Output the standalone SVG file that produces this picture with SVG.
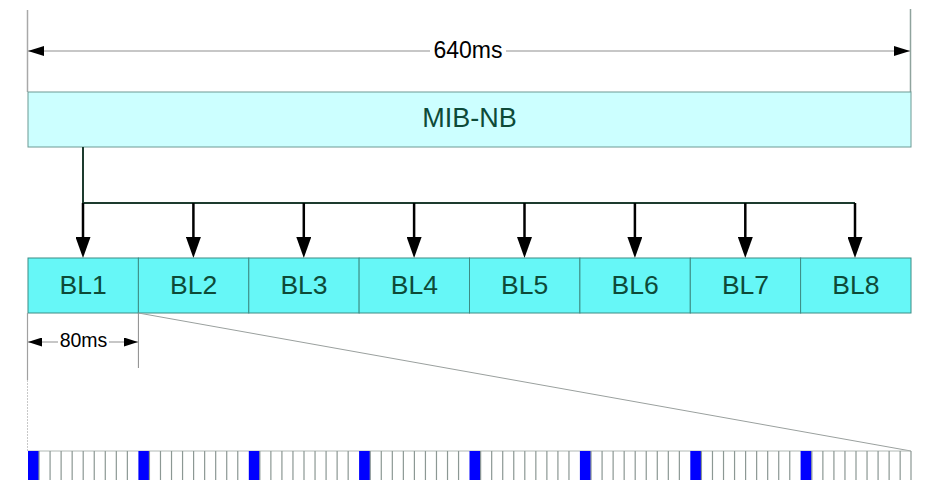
<svg xmlns="http://www.w3.org/2000/svg" width="939" height="493" viewBox="0 0 939 493">
<style>
.txt{font-family:"Liberation Sans",Arial,sans-serif;text-anchor:middle}
.lbl{fill:#0d4a38;font-size:26.5px}
.mib{font-size:27px}
.dim{fill:#000;font-size:23px}
.gl{stroke:#b4b4b4;stroke-width:1.5;fill:none}
.bl{fill:#66f7f7;stroke:#3c8c84;stroke-width:1}
.fan{stroke:#1d3b2e;stroke-width:2;fill:none}
.arr{stroke:#000;stroke-width:2.5;fill:none}
.slot{stroke:#8c9894;stroke-width:1.2}
</style>
<defs>
<marker id="ah" viewBox="0 0 16 10" refX="16" refY="5" markerWidth="16" markerHeight="10" markerUnits="userSpaceOnUse" orient="auto-start-reverse">
<path d="M0,0 L16,5 L0,10 Z" fill="#000"/>
</marker>
<marker id="ahs" viewBox="0 0 14 9" refX="14" refY="4.5" markerWidth="14" markerHeight="9" markerUnits="userSpaceOnUse" orient="auto-start-reverse">
<path d="M0,0 L14,4.5 L0,9 Z" fill="#000"/>
</marker>
<marker id="ahd" viewBox="0 0 15 21" refX="7.5" refY="8" markerWidth="15" markerHeight="21" markerUnits="userSpaceOnUse" orient="0">
<path d="M0,0 L15,0 L7.5,21 Z" fill="#000"/>
</marker>
</defs>

<g id="dim640">
<line x1="27.5" y1="10" x2="27.5" y2="92" stroke="#a8a8a8" stroke-width="1.5"/>
<line x1="910.5" y1="9" x2="910.5" y2="92" stroke="#8fa39d" stroke-width="1.5"/>
<line class="gl" x1="28" y1="51" x2="430" y2="51" marker-start="url(#ah)"/>
<line class="gl" x1="506" y1="51" x2="910" y2="51" marker-end="url(#ah)"/>
<text class="txt dim" x="468" y="58">640ms</text>
</g>

<g id="mib">
<rect x="28" y="92" width="883" height="55" fill="#ccffff" stroke="#6d9a94" stroke-width="1"/>
<text class="txt lbl mib" x="469.5" y="127">MIB-NB</text>
</g>

<g id="connectors">
<polyline class="fan" points="83,147 83,203 855,203"/>
<line class="arr" x1="83" y1="203" x2="83" y2="245" marker-end="url(#ahd)"/>
<line class="arr" x1="193.4" y1="203" x2="193.4" y2="245" marker-end="url(#ahd)"/>
<line class="arr" x1="303.8" y1="203" x2="303.8" y2="245" marker-end="url(#ahd)"/>
<line class="arr" x1="414.1" y1="203" x2="414.1" y2="245" marker-end="url(#ahd)"/>
<line class="arr" x1="524.5" y1="203" x2="524.5" y2="245" marker-end="url(#ahd)"/>
<line class="arr" x1="634.9" y1="203" x2="634.9" y2="245" marker-end="url(#ahd)"/>
<line class="arr" x1="745.3" y1="203" x2="745.3" y2="245" marker-end="url(#ahd)"/>
<line class="arr" x1="855" y1="203" x2="855" y2="245" marker-end="url(#ahd)"/>
</g>

<g id="bl1"><rect class="bl" x="28" y="258" width="110.4" height="55"/><text class="txt lbl" x="83.2" y="294">BL1</text></g>
<g id="bl2"><rect class="bl" x="138.4" y="258" width="110.4" height="55"/><text class="txt lbl" x="193.6" y="294">BL2</text></g>
<g id="bl3"><rect class="bl" x="248.8" y="258" width="110.4" height="55"/><text class="txt lbl" x="304" y="294">BL3</text></g>
<g id="bl4"><rect class="bl" x="359.1" y="258" width="110.4" height="55"/><text class="txt lbl" x="414.3" y="294">BL4</text></g>
<g id="bl5"><rect class="bl" x="469.5" y="258" width="110.4" height="55"/><text class="txt lbl" x="524.7" y="294">BL5</text></g>
<g id="bl6"><rect class="bl" x="579.9" y="258" width="110.4" height="55"/><text class="txt lbl" x="635.1" y="294">BL6</text></g>
<g id="bl7"><rect class="bl" x="690.3" y="258" width="110.4" height="55"/><text class="txt lbl" x="745.5" y="294">BL7</text></g>
<g id="bl8"><rect class="bl" x="800.6" y="258" width="110.4" height="55"/><text class="txt lbl" x="855.8" y="294">BL8</text></g>

<g id="dim80">
<line x1="27.5" y1="313" x2="27.5" y2="380" stroke="#a0a0a0" stroke-width="1.2"/>
<line x1="27.5" y1="380" x2="27.5" y2="451" stroke="#c8c8c8" stroke-width="1" stroke-dasharray="2,1"/>
<line x1="138.4" y1="313" x2="138.4" y2="368" stroke="#8a8a8a" stroke-width="1"/>
<line class="gl" x1="28" y1="342" x2="58" y2="342" stroke-width="1.2" marker-start="url(#ahs)"/>
<line class="gl" x1="109" y1="342" x2="138" y2="342" stroke-width="1.2" marker-end="url(#ahs)"/>
<text class="txt" x="83.5" y="347" font-size="19.5" fill="#000">80ms</text>
<line x1="138.4" y1="313" x2="911" y2="451" stroke="#9aa09e" stroke-width="1"/>
</g>

<g id="subframes">
<line x1="28" y1="451" x2="911" y2="451" stroke="#b0b8b4" stroke-width="1"/>
<g fill="#0000ff">
<rect x="28" y="451" width="11" height="29"/>
<rect x="138.4" y="451" width="11" height="29"/>
<rect x="248.8" y="451" width="11" height="29"/>
<rect x="359.1" y="451" width="11" height="29"/>
<rect x="469.5" y="451" width="11" height="29"/>
<rect x="579.9" y="451" width="11" height="29"/>
<rect x="690.3" y="451" width="11" height="29"/>
<rect x="800.6" y="451" width="11" height="29"/>
</g>
<path class="slot" d="M39.04,451V480M50.08,451V480M61.12,451V480M72.16,451V480M83.2,451V480M94.24,451V480M105.28,451V480M116.32,451V480M127.36,451V480
M149.44,451V480M160.48,451V480M171.52,451V480M182.56,451V480M193.6,451V480M204.64,451V480M215.68,451V480M226.72,451V480M237.76,451V480
M259.84,451V480M270.88,451V480M281.92,451V480M292.96,451V480M304,451V480M315.04,451V480M326.08,451V480M337.12,451V480M348.16,451V480
M370.24,451V480M381.28,451V480M392.32,451V480M403.36,451V480M414.4,451V480M425.44,451V480M436.48,451V480M447.52,451V480M458.56,451V480
M480.64,451V480M491.68,451V480M502.72,451V480M513.76,451V480M524.8,451V480M535.84,451V480M546.88,451V480M557.92,451V480M568.96,451V480
M591.04,451V480M602.08,451V480M613.12,451V480M624.16,451V480M635.2,451V480M646.24,451V480M657.28,451V480M668.32,451V480M679.36,451V480
M701.44,451V480M712.48,451V480M723.52,451V480M734.56,451V480M745.6,451V480M756.64,451V480M767.68,451V480M778.72,451V480M789.76,451V480
M811.84,451V480M822.88,451V480M833.92,451V480M844.96,451V480M856,451V480M867.04,451V480M878.08,451V480M889.12,451V480M900.16,451V480M911,451V480"/>
</g>
</svg>
